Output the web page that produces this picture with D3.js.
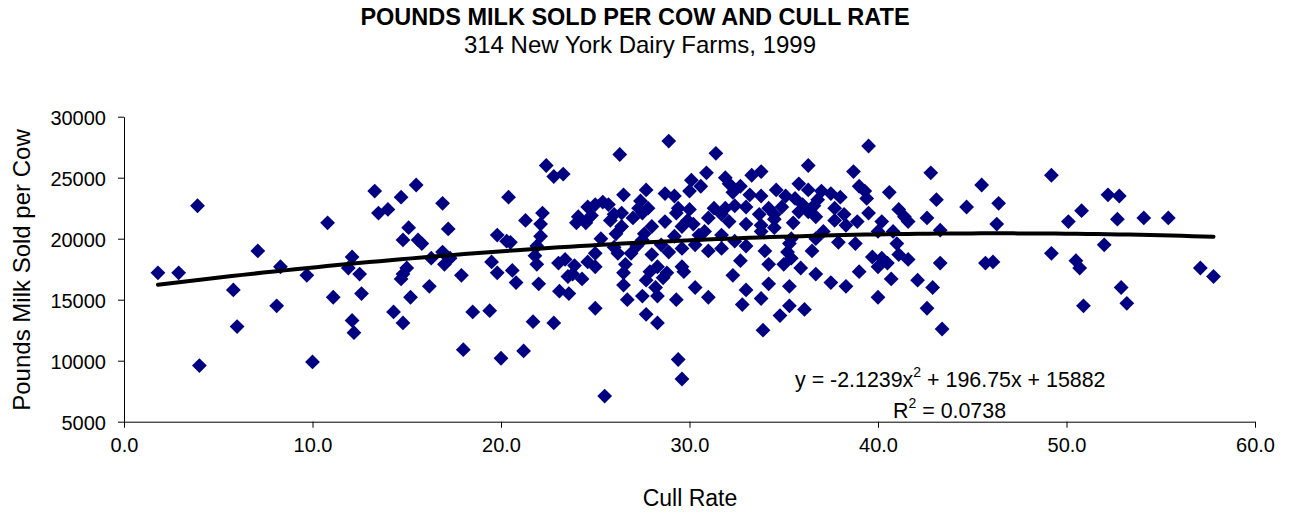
<!DOCTYPE html>
<html>
<head>
<meta charset="utf-8">
<script src="https://cdn.jsdelivr.net/npm/d3@7/dist/d3.min.js"></script>
<style>
  html, body { margin: 0; padding: 0; background: #fff; }
  text { font-family: "Liberation Sans", Arial, sans-serif; fill: #000; }
</style>
</head>
<body>
<svg id="chart" width="1289" height="514"></svg>
<script>
// ---- Data ----
const cullRate = [
  1.8, 2.9, 3.9, 4.0, 5.8, 6.0, 7.1, 8.1, 8.3, 9.7, 10.0, 10.8, 11.1, 12.1, 11.9, 12.5, 12.6, 12.1, 12.2,
  13.3, 13.5, 14.0, 14.7, 15.5, 15.1, 14.8, 15.6, 15.8, 15.0, 14.8, 14.7, 15.2, 14.3, 14.8, 16.3, 16.2,
  22.4, 22.8, 23.3, 16.9, 20.4, 17.2, 22.2, 21.3, 22.1, 24.0, 19.8, 20.5, 20.3, 22.1, 21.9, 21.8, 19.5,
  16.9, 17.3, 17.0, 23.05, 23.4, 23.9, 17.9, 19.8, 20.6, 20.8, 22.0, 21.9, 23.8, 23.55, 23.1, 23.6,
  18.5, 19.4, 21.7, 22.8, 18.0, 20.0, 21.2,
  28.9, 26.3, 31.4, 30.9, 30.1, 30.6, 30.0, 27.7, 26.5, 28.7, 27.4, 27.3, 29.2, 29.4, 29.3, 27.8, 27.5,
  31.3, 31.0, 25.4, 25.0, 24.6, 25.7, 24.1, 24.5, 26.0, 26.4, 26.4, 28.7, 30.2, 29.6, 30.8, 25.3, 26.1,
  27.6, 27.5, 29.2, 28.5, 25.0, 26.2, 26.9, 24.6, 28.0, 29.6, 31.0, 30.3, 26.6, 29.6,
  25.0, 25.5, 29.4, 29.6, 27.7, 28.3, 26.7, 27.5, 28.3, 29.3, 30.3, 31.0, 29.7, 28.6, 27.7, 28.2, 26.5,
  26.5, 28.3, 24.3, 25.0,
  36.3, 38.7, 33.8, 33.3, 31.9, 32.1, 32.3, 32.7, 35.8, 36.3, 37.5, 33.2, 33.8, 34.6, 35.1, 35.6, 36.8,
  36.0, 36.6, 34.2, 34.5, 33.7, 32.4, 31.9, 31.7, 32.1, 33.0, 33.8, 34.5, 35.8, 36.3, 37.7, 38.2, 37.7,
  38.3, 38.9, 36.7, 33.8, 34.5, 31.7, 32.4, 35.4, 36.7, 35.3, 38.8, 31.7, 33.0, 35.2, 35.4, 32.7, 35.9,
  35.0, 32.3, 33.0, 32.8, 34.2, 33.8, 35.3, 34.8, 35.3, 36.1, 33.9, 36.7, 37.5, 38.3, 39.0,
  39.5, 42.8, 45.5, 39.0, 39.3, 39.4, 40.6, 43.1, 44.7, 46.4, 39.5, 41.1, 41.4, 41.6, 42.6, 40.2, 40.0,
  40.8, 43.3, 46.3, 41.0, 39.7, 40.2, 41.1, 41.6, 43.3, 45.7, 46.1, 40.0, 40.7, 40.0, 42.1, 42.9, 42.6,
  43.4,
  49.2, 52.2, 52.8, 50.8, 50.1, 52.7, 54.1, 55.4, 52.0, 49.2, 50.5, 50.7, 57.1, 57.8, 52.9, 53.2, 50.9,
  24.8, 25.8, 27.0, 28.0, 27.2, 26.0, 28.9, 30.5, 30.0, 29.9, 33.0, 34.9, 35.5, 37.1, 37.9, 34.0, 36.5,
  34.2, 37.0, 38.0, 40.5, 27.9, 28.8
];
const milkSold = [
  17200, 17200, 22700, 9600, 15800, 12800, 19000, 14500, 17700, 17000, 9900, 21300, 15200, 18500, 17600, 17100, 15500, 13300, 12300,
  23900, 22100, 22400, 23400, 24400, 20900, 19900, 19900, 19600, 17600, 17100, 16700, 15200, 14000, 13100, 18400, 16100,
  26000, 25100, 25300, 22900, 23400, 20800, 22100, 21500, 21200, 21300, 20300, 19700, 19800, 20200, 19400, 18600, 18100,
  18900, 18400, 17900, 18000, 18300, 17800, 17000, 17200, 17400, 16400, 16300, 17900, 17100, 16900, 15700, 15500,
  14000, 14100, 13200, 13100, 10900, 10200, 10800,
  28000, 26900, 27000, 25400, 24800, 24300, 23900, 24000, 23600, 23700, 23100, 22500, 23500, 22500, 22100, 22500, 22100,
  22500, 21700, 23000, 22800, 22600, 22800, 21800, 21300, 22000, 22100, 21000, 21400, 21200, 21000, 20600, 20000, 20400,
  20400, 19900, 20200, 19500, 18800, 18800, 18800, 18100, 18700, 19200, 19000, 19500, 17900, 17700,
  14300, 7100, 10100, 8500, 13800, 13100, 15000, 15300, 15300, 15000, 16000, 15200, 17300, 16800, 16600, 16000, 17200,
  16200, 17700, 16700, 17700,
  26000, 25500, 25500, 25200, 25000, 24500, 23800, 24300, 24500, 24000, 23700, 23600, 23500, 24000, 23500, 23300, 23200,
  22800, 22700, 22500, 22000, 22000, 22700, 22500, 22000, 21400, 21200, 21100, 21600, 22200, 22200, 22500, 22000, 21500,
  21100, 21400, 21800, 20600, 20900, 20300, 19800, 20000, 20000, 19600, 19600, 19200, 19400, 18900, 18400, 18200, 17600,
  17900, 17000, 15800, 14600, 16300, 15100, 16100, 13700, 14500, 14200, 12500, 17100, 16400, 16100, 17300,
  27600, 25400, 24400, 24300, 23900, 23300, 23800, 23200, 22600, 22900, 22100, 22400, 21800, 21400, 21700, 21400, 20600,
  20600, 20700, 21200, 19600, 18500, 18400, 18700, 18300, 18000, 18000, 18100, 17700, 16700, 15200, 16600, 16000, 14300,
  12600,
  25200, 23600, 23500, 22300, 21400, 21600, 21700, 21700, 19500, 18800, 18200, 17600, 17600, 16900, 16000, 14700, 14500,
  21900, 21500, 21700, 21000, 19400, 19300, 18900, 20300, 22400, 21500, 22600, 22600, 21300, 20600, 19700, 19000, 19000,
  17900, 23900, 23400, 18000, 17300, 17200
];
// Polynomial trendline coefficients: y = a*x^2 + b*x + c
const trendCoef = [-2.1239, 196.75, 15882];
const xTicks = [0, 10, 20, 30, 40, 50, 60];
const yTicks = [5000, 10000, 15000, 20000, 25000, 30000];
const titleText = "POUNDS MILK SOLD PER COW AND CULL RATE";
const subtitleText = "314 New York Dairy Farms, 1999";
const xTitle = "Cull Rate";
const yTitle = "Pounds Milk Sold per Cow";

// ---- Layout ----
const svg = d3.select("#chart");
const W = 1289, H = 514;
const plot = { left: 124, right: 1255, top: 116.7, bottom: 421.7 };

svg.append("rect").attr("width", W).attr("height", H).attr("fill", "#fff");

const x = d3.scaleLinear().domain([0, 60]).range([plot.left, plot.right]);
const y = d3.scaleLinear().domain([5000, 30000]).range([plot.bottom, plot.top]);

// Axes
const xAxis = d3.axisBottom(x).tickValues(xTicks).tickFormat(d3.format(".1f"))
  .tickSizeInner(6).tickSizeOuter(0).tickPadding(10);
const yAxis = d3.axisLeft(y).tickValues(yTicks).tickFormat(d => String(d))
  .tickSizeInner(6).tickSizeOuter(0).tickPadding(12);

const gx = svg.append("g").attr("transform", `translate(0,${plot.bottom})`).call(xAxis);
const gy = svg.append("g").attr("transform", `translate(${plot.left},0)`).call(yAxis);
[gx, gy].forEach(g => {
  g.selectAll("path.domain").attr("stroke", "#000").attr("stroke-width", 1);
  g.selectAll(".tick line").attr("stroke", "#000").attr("stroke-width", 1);
  g.selectAll(".tick text").attr("font-family", '"Liberation Sans", Arial, sans-serif')
    .attr("font-size", 20).attr("fill", "#000");
});
gx.selectAll(".tick text").attr("dy", "0.71em");
gy.selectAll(".tick text").attr("dy", "0.4em");

// Points
const pts = cullRate.map((c, i) => ({ x: c, y: milkSold[i] }));
const r = 7.4;
const diamond = `M0,${-r}L${r},0L0,${r}L${-r},0Z`;
svg.append("g").selectAll("path").data(pts).join("path")
  .attr("d", diamond)
  .attr("transform", d => `translate(${x(d.x)},${y(d.y)})`)
  .attr("fill", "#000080");

// Trendline over the data range
const xmin = d3.min(cullRate), xmax = d3.max(cullRate);
const trendPts = d3.range(0, 101).map(i => {
  const xv = xmin + (xmax - xmin) * i / 100;
  return [xv, trendCoef[0] * xv * xv + trendCoef[1] * xv + trendCoef[2]];
});
svg.append("path")
  .attr("d", d3.line().x(d => x(d[0])).y(d => y(d[1]))(trendPts))
  .attr("fill", "none").attr("stroke", "#000").attr("stroke-width", 4).attr("stroke-linecap", "round");

// Equation text
const eq = svg.append("text").attr("x", 795).attr("y", 387).attr("font-size", 21.4);
eq.append("tspan").text("y = -2.1239x");
eq.append("tspan").attr("font-size", 14).attr("dy", -10).text("2");
eq.append("tspan").attr("dy", 10).text(" + 196.75x + 15882");
const r2 = svg.append("text").attr("x", 893).attr("y", 418).attr("font-size", 21.4);
r2.append("tspan").text("R");
r2.append("tspan").attr("font-size", 14).attr("dy", -10).text("2");
r2.append("tspan").attr("dy", 10).text(" = 0.0738");

// Titles
svg.append("text").attr("x", 635).attr("y", 25).attr("text-anchor", "middle")
  .attr("font-size", 23.5).attr("font-weight", "bold").text(titleText);
svg.append("text").attr("x", 640).attr("y", 53).attr("text-anchor", "middle")
  .attr("font-size", 24).text(subtitleText);
svg.append("text").attr("x", 690).attr("y", 506).attr("text-anchor", "middle")
  .attr("font-size", 23).text(xTitle);
svg.append("text").attr("transform", `translate(30,270) rotate(-90)`).attr("text-anchor", "middle")
  .attr("font-size", 24).text(yTitle);
</script>
</body>
</html>
